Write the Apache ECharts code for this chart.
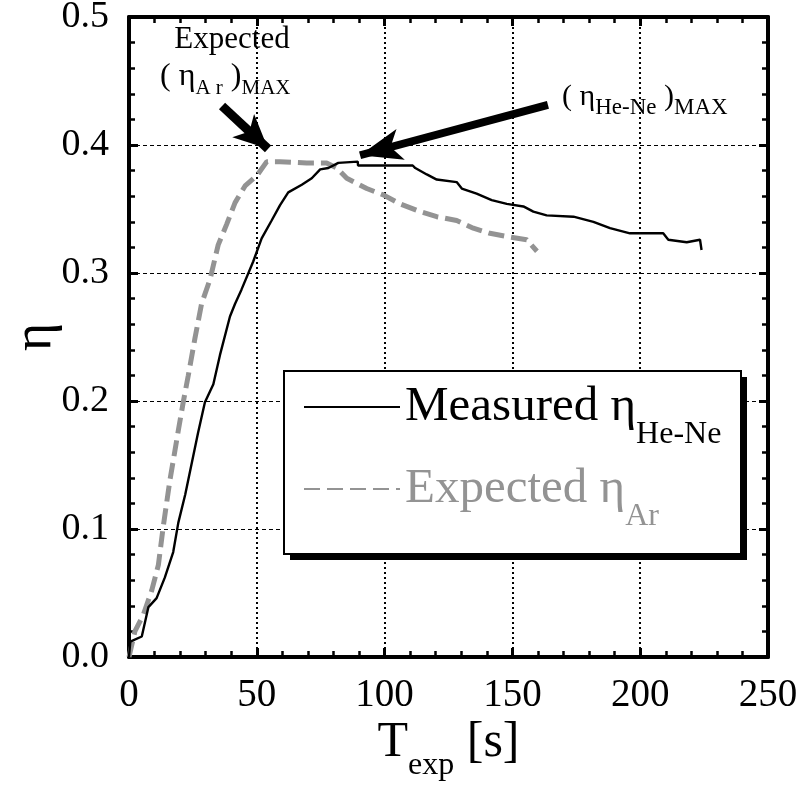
<!DOCTYPE html>
<html>
<head>
<meta charset="utf-8">
<script src="https://cdn.jsdelivr.net/npm/echarts@6/dist/echarts.min.js"></script>
<style>
html, body { margin: 0; padding: 0; background: #fff; }
#chart { width: 799px; height: 786px; }
</style>
</head>
<body>
<div id="chart"></div>
<script>
// Measured efficiency of the He-Ne run versus exposure time
const measuredTime = [0, 0.5, 5, 7.6, 10.8, 14, 17.3, 19.3, 22, 24.5, 27, 29.7, 33, 35.6, 39.5, 41.5, 44, 48.6, 51.9, 55.8,
  59.1, 62.3, 67.6, 71.5, 74.8, 78, 81.9, 82, 89.5, 89.6, 111, 112, 116.5, 120.4, 128.2, 130.2, 136, 141.9, 147.8,
  154.3, 158.2, 163.4, 173.9, 181.7, 188.2, 196, 209, 211, 218.2, 223.4, 224];
const measuredEta = [0, 0.012, 0.016, 0.039, 0.046, 0.062, 0.082, 0.105, 0.127, 0.151, 0.175, 0.199, 0.213, 0.236, 0.266, 0.276,
  0.287, 0.309, 0.327, 0.341, 0.353, 0.363, 0.369, 0.374, 0.381, 0.382, 0.386, 0.387, 0.387, 0.384, 0.384, 0.382,
  0.377, 0.373, 0.371, 0.366, 0.362, 0.357, 0.354, 0.352, 0.348, 0.345, 0.344, 0.340, 0.335, 0.331, 0.331, 0.326,
  0.324, 0.326, 0.318];

// Expected efficiency for argon
const expectedTime = [0, 2.3, 5.6, 8.9, 11.5, 13.4, 16, 19.3, 21.3, 23.2, 25.8, 28.4, 31.7, 34.9, 38.2, 41.5, 45.4, 50, 53.9,
  59.1, 69.5, 77.3, 81.3, 85.2, 93, 99.5, 106, 113.8, 120.4, 128.2, 134.7, 141.2, 149, 155.6, 159.6];
const expectedEta = [0, 0.020, 0.033, 0.052, 0.072, 0.102, 0.138, 0.177, 0.200, 0.220, 0.249, 0.276, 0.295, 0.322, 0.338,
  0.355, 0.368, 0.376, 0.387, 0.387, 0.386, 0.386, 0.382, 0.374, 0.366, 0.361, 0.354, 0.348, 0.344, 0.341, 0.335,
  0.331, 0.328, 0.326, 0.317];

// Axis ranges and tick steps
const xRange = [0, 250];
const xStep = 50;
const yRange = [0, 0.5];
const yStep = 0.1;

// Arrow annotations: [tail, tip] in data units
const arNeedle = [[36.4, 0.4305], [54.4, 0.397]];
const heNeNeedle = [[163.9, 0.4313], [90.4, 0.392]];

const FONT = '"Liberation Serif", "Times New Roman", serif';
const GRAY = '#939393';

function zip(xs, ys) { return xs.map((x, i) => [x, ys[i]]); }

function frameAxis(position, isX, withLabels) {
  const ax = {
    type: 'value',
    position: position,
    min: isX ? xRange[0] : yRange[0],
    max: isX ? xRange[1] : yRange[1],
    interval: isX ? xStep : yStep,
    axisLine: { show: true, onZero: false, lineStyle: { color: '#000', width: 4 } },
    axisTick: { show: true, inside: true, length: 9, lineStyle: { color: '#000', width: 3 } },
    minorTick: { show: true, splitNumber: 5, length: 6, lineStyle: { color: '#000', width: 2.5 } },
    splitLine: { show: false },
    axisLabel: { show: false }
  };
  if (withLabels) {
    ax.axisLabel = {
      show: true, color: '#000', fontFamily: FONT, fontSize: isX ? 39 : 38, margin: isX ? 19 : 20,
      formatter: isX ? (v => String(v)) : (v => v.toFixed(1))
    };
    ax.splitLine = isX
      ? { show: true, lineStyle: { color: '#000', width: 2, type: [2, 3] } }
      : { show: true, lineStyle: { color: '#000', width: 1, type: [4, 3] } };
  }
  return ax;
}

function arrow(seg, headW, headL) {
  return [
    { coord: seg[0], symbol: 'none' },
    { coord: seg[1], symbol: 'arrow', symbolSize: [headW, headL] }
  ];
}

const xBottom = frameAxis('bottom', true, true);
xBottom.name = '{t|T}{e|exp}{t| [s]}';
xBottom.nameLocation = 'middle';
xBottom.nameGap = 61;
xBottom.nameMoveOverlap = false;
xBottom.nameTextStyle = {
  color: '#000',
  rich: {
    t: { fontFamily: FONT, fontSize: 50, lineHeight: 50, verticalAlign: 'middle', color: '#000' },
    e: { fontFamily: FONT, fontSize: 32, lineHeight: 32, padding: [46, 0, 0, 0], verticalAlign: 'middle', color: '#000' }
  }
};

const yLeft = frameAxis('left', false, true);
yLeft.name = 'η';
yLeft.nameLocation = 'middle';
yLeft.nameRotate = 90;
yLeft.nameGap = 66;
yLeft.nameMoveOverlap = false;
yLeft.nameTextStyle = { color: '#000', fontFamily: FONT, fontSize: 54 };

const legendRich = {
  m1: { fontFamily: FONT, fontSize: 49, lineHeight: 50, verticalAlign: 'middle', color: '#000' },
  s1: { fontFamily: FONT, fontSize: 32, lineHeight: 32, padding: [56, 0, 0, 0], verticalAlign: 'middle', color: '#000' },
  m2: { fontFamily: FONT, fontSize: 49, lineHeight: 50, verticalAlign: 'middle', color: GRAY },
  s2: { fontFamily: FONT, fontSize: 32, lineHeight: 32, padding: [56, 0, 0, 0], verticalAlign: 'middle', color: GRAY }
};

const option = {
  animation: false,
  backgroundColor: '#fff',
  grid: { left: 129, right: 31, top: 17, bottom: 129, containLabel: false, outerBoundsMode: 'none' },
  xAxis: [xBottom, frameAxis('top', true, false)],
  yAxis: [yLeft, frameAxis('right', false, false)],
  legend: {
    z: 10,
    left: 303,
    top: 363,
    orient: 'vertical',
    padding: 0,
    itemWidth: 96,
    itemHeight: 2,
    itemGap: -6,
    selectedMode: false,
    itemStyle: { opacity: 0 },
    data: [
      { name: 'Measured', textStyle: { color: '#000' } },
      { name: 'Expected', textStyle: { color: GRAY } }
    ],
    formatter: name => name === 'Measured'
      ? '{m1|Measured η}{s1|He-Ne}'
      : '{m2|Expected η}{s2|Ar}',
    textStyle: { fontFamily: FONT, fontSize: 49, rich: legendRich }
  },
  graphic: {
    elements: [
      // legend frame with a drop shadow
      { type: 'rect', z: 5, shape: { x: 290, y: 377, width: 457, height: 183 }, style: { fill: '#000' } },
      { type: 'rect', z: 6, shape: { x: 284, y: 371, width: 457, height: 183 },
        style: { fill: '#fff', stroke: '#000', lineWidth: 2 } },
      { type: 'text', z: 20, x: 232, y: 40,
        style: { text: 'Expected', font: '31px ' + FONT, fill: '#000', align: 'center', verticalAlign: 'middle' } },
      { type: 'text', z: 20, x: 160, y: 77,
        style: {
          text: '{p|( η}{s|A r}{p| )}{s|MAX}', fill: '#000', align: 'left', verticalAlign: 'middle',
          rich: {
            p: { fontFamily: FONT, fontSize: 32, lineHeight: 34, verticalAlign: 'middle', fill: '#000' },
            s: { fontFamily: FONT, fontSize: 21, lineHeight: 21, padding: [22, 0, 0, 0], verticalAlign: 'middle', fill: '#000' }
          }
        } },
      { type: 'text', z: 20, x: 562, y: 97,
        style: {
          text: '{p|( η}{s|He-Ne}{p| )}{s|MAX}', fill: '#000', align: 'left', verticalAlign: 'middle',
          rich: {
            p: { fontFamily: FONT, fontSize: 30, lineHeight: 32, verticalAlign: 'middle', fill: '#000' },
            s: { fontFamily: FONT, fontSize: 23, lineHeight: 23, padding: [22, 0, 0, 0], verticalAlign: 'middle', fill: '#000' }
          }
        } }
    ]
  },
  series: [
    {
      name: 'Measured',
      type: 'line',
      data: zip(measuredTime, measuredEta),
      symbol: 'none',
      lineStyle: { color: '#000', width: 2.4 },
      itemStyle: { color: '#000' },
      z: 3,
      markLine: {
        silent: true,
        animation: false,
        label: { show: false },
        lineStyle: { color: '#000', width: 8, type: 'solid' },
        data: [arrow(heNeNeedle, 24, 42)]
      }
    },
    {
      name: 'Expected',
      type: 'line',
      data: zip(expectedTime, expectedEta),
      symbol: 'none',
      lineStyle: { color: GRAY, width: 5, type: [16, 7] },
      itemStyle: { color: GRAY },
      z: 2,
      markLine: {
        silent: true,
        animation: false,
        label: { show: false },
        lineStyle: { color: '#000', width: 9, type: 'solid' },
        data: [arrow(arNeedle, 24, 34)]
      }
    }
  ]
};

const chart = echarts.init(document.getElementById('chart'), null, { renderer: 'canvas' });
chart.setOption(option);
</script>
</body>
</html>
